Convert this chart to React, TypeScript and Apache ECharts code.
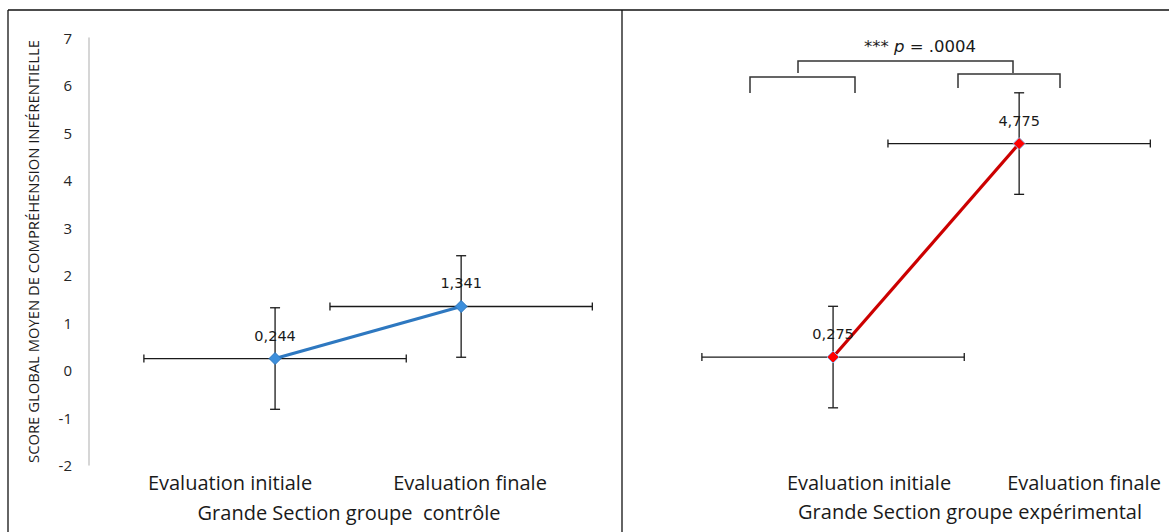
import React, { useEffect, useRef } from "react";
import * as echarts from "echarts";

// ---- data ----
const categories = ["Evaluation initiale", "Evaluation finale"];
const pointX = [1, 2];
const controlMeans = [0.244, 1.341];
const experimentalMeans = [0.275, 4.775];
const controlYErr = [1.07, 1.07];
const experimentalYErr = [1.07, 1.07];
const controlXErr = [0.705, 0.705];
const experimentalXErr = [0.705, 0.705];
const yMin = -2;
const yMax = 7;
const yStep = 1;
const groupTitles = ["Grande Section groupe  contrôle", "Grande Section groupe expérimental"];
const yAxisTitle = "SCORE GLOBAL MOYEN DE COMPRÉHENSION INFÉRENTIELLE";
const significanceStars = "***";
const significanceP = "= .0004";

const GRID_W = 521;
const GRID_TOP = 38;
const GRID_H = 427;
const LEFT_X0 = 89;
const RIGHT_X0 = 647;

const fmt = (v: number) => String(v).replace(".", ",");

const errorBarSeries = (xi: number, means: number[], xe: number[], ye: number[]) => ({
  type: "custom",
  xAxisIndex: xi,
  yAxisIndex: xi,
  z: 1,
  silent: true,
  clip: false,
  data: means.map((m, i) => [pointX[i], m, xe[i], ye[i]]),
  renderItem: (params: any, api: any) => {
    const x = api.value(0);
    const y = api.value(1);
    const ex = api.value(2);
    const ey = api.value(3);
    const l = api.coord([x - ex, y]);
    const r = api.coord([x + ex, y]);
    const t = api.coord([x, y + ey]);
    const b = api.coord([x, y - ey]);
    const style = { stroke: "#1a1a1a", lineWidth: 1.3 };
    const capH = 4;
    const capV = 5;
    const ln = (x1: number, y1: number, x2: number, y2: number) => ({
      type: "line",
      shape: { x1, y1, x2, y2 },
      style,
    });
    return {
      type: "group",
      children: [
        ln(l[0], l[1], r[0], r[1]),
        ln(l[0], l[1] - capH, l[0], l[1] + capH),
        ln(r[0], r[1] - capH, r[0], r[1] + capH),
        ln(t[0], t[1], b[0], b[1]),
        ln(t[0] - capV, t[1], t[0] + capV, t[1]),
        ln(b[0] - capV, b[1], b[0] + capV, b[1]),
      ],
    };
  },
});

const lineSeries = (xi: number, means: number[], lineColor: string, markColor: string, border: string) => ({
  type: "line",
  xAxisIndex: xi,
  yAxisIndex: xi,
  z: 3,
  data: means.map((m, i) => [pointX[i], m]),
  symbol: "diamond",
  symbolSize: 12,
  lineStyle: { color: lineColor, width: 3.2 },
  itemStyle: { color: markColor, borderColor: border, borderWidth: 1 },
  label: {
    show: true,
    position: "top",
    distance: 9,
    formatter: (p: any) => fmt(p.value[1]),
    fontFamily: "DejaVu Sans",
    fontSize: 14.5,
    color: "#1a1a1a",
  },
});

const textEl = (text: string, x: number, y: number, size: number) => ({
  type: "text",
  x,
  y,
  style: {
    text,
    fontFamily: "Open Sans",
    fontSize: size,
    fill: "#1a1a1a",
    align: "center",
    verticalAlign: "middle",
  },
});

export default function App() {
  const ref = useRef<HTMLDivElement>(null);
  useEffect(() => {
    document.body.style.margin = "0";
    const chart = echarts.init(ref.current!, null, { renderer: "svg" });
    const yAxisBase = {
      type: "value",
      min: yMin,
      max: yMax,
      interval: yStep,
      splitLine: { show: false },
      axisTick: { show: false },
    };
    const xAxisBase = {
      type: "value",
      min: 0,
      max: 2.8,
      show: false,
    };
    const bracketStyle = { stroke: "#333", lineWidth: 1.5, fill: "none" };
    chart.setOption({
      animation: false,
      grid: [
        { left: LEFT_X0, top: GRID_TOP, width: GRID_W, height: GRID_H },
        { left: RIGHT_X0, top: GRID_TOP, width: GRID_W, height: GRID_H },
      ],
      xAxis: [
        { ...xAxisBase, gridIndex: 0 },
        { ...xAxisBase, gridIndex: 1 },
      ],
      yAxis: [
        {
          ...yAxisBase,
          gridIndex: 0,
          axisLine: { show: true, lineStyle: { color: "#c8c8c8", width: 1.5 } },
          axisLabel: { color: "#262626", fontFamily: "Open Sans", fontSize: 15, margin: 17 },
          name: yAxisTitle,
          nameLocation: "middle",
          nameRotate: 90,
          nameGap: 49,
          nameTextStyle: { color: "#1a1a1a", fontFamily: "Open Sans", fontSize: 14.8 },
        },
        { ...yAxisBase, gridIndex: 1, show: false },
      ],
      series: [
        errorBarSeries(0, controlMeans, controlXErr, controlYErr),
        errorBarSeries(1, experimentalMeans, experimentalXErr, experimentalYErr),
        lineSeries(0, controlMeans, "#2e78c0", "#3d8fdc", "#2e78c0"),
        lineSeries(1, experimentalMeans, "#cc0000", "#ff0000", "#8fb4e3"),
      ],
      graphic: [
        { type: "line", shape: { x1: 8, y1: 10, x2: 1169, y2: 10 }, style: { stroke: "#111", lineWidth: 1.3 } },
        { type: "line", shape: { x1: 8, y1: 10, x2: 8, y2: 532 }, style: { stroke: "#111", lineWidth: 1.3 } },
        { type: "line", shape: { x1: 622, y1: 10, x2: 622, y2: 532 }, style: { stroke: "#111", lineWidth: 1.3 } },
        textEl(categories[0], 230, 482, 20),
        textEl(categories[1], 470, 482, 20),
        textEl(categories[0], 869, 482, 20),
        textEl(categories[1], 1084, 482, 20),
        textEl(groupTitles[0], 349, 512, 20),
        textEl(groupTitles[1], 970, 511, 20),
        { type: "polyline", shape: { points: [[750, 93], [750, 77], [855, 77], [855, 93]] }, style: bracketStyle },
        { type: "polyline", shape: { points: [[958, 88], [958, 74], [1060, 74], [1060, 88]] }, style: bracketStyle },
        { type: "polyline", shape: { points: [[798, 73], [798, 61], [1013, 61], [1013, 73]] }, style: bracketStyle },
        {
          type: "text",
          x: 920,
          y: 46,
          style: {
            text: `{a|${significanceStars} }{b|p}{a| ${significanceP}}`,
            align: "center",
            verticalAlign: "middle",
            rich: {
              a: { fontFamily: "DejaVu Sans", fontSize: 16.5, fill: "#1a1a1a", color: "#1a1a1a" },
              b: { fontFamily: "DejaVu Sans", fontSize: 16.5, fontStyle: "italic", fill: "#1a1a1a", color: "#1a1a1a" },
            },
          },
        },
      ],
    });
    return () => chart.dispose();
  }, []);
  return <div ref={ref} style={{ width: 1169, height: 532 }} />;
}
